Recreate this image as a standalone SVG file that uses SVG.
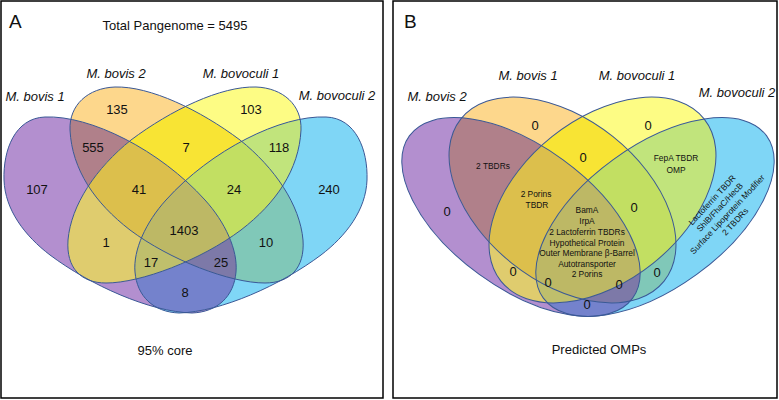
<svg xmlns="http://www.w3.org/2000/svg" width="779" height="400" viewBox="0 0 779 400">
<style>
text{font-family:"Liberation Sans",Arial,sans-serif;fill:#111;}
.n{font-size:13px;text-anchor:middle;}
.t{font-size:13px;text-anchor:middle;font-style:italic;}
.s{font-size:8.4px;text-anchor:middle;}
.o{fill:none;stroke:#3a5896;stroke-width:1;}
.frame{fill:#fff;stroke:#000;stroke-width:1.5;}
</style>
<defs>
<path id="pA1" d="M 45,117 C 90,115 160,150 205,200 C 225,222 238,250 236,272 C 234,296 218,312 192,313 C 150,312 90,285 50,255 C 25,236 5,210 4,180 C 3,150 15,118 45,117 Z"/>
<path id="pA2" d="M 115,87 C 150,86 200,110 240,140 C 275,168 300,205 303,240 C 305,268 290,283 265,283 C 230,283 170,260 130,230 C 95,203 72,170 70,130 C 69,105 88,88 115,87 Z"/>
<path id="pA3" d="M 256,87 C 221,86 171,110 131,140 C 96,168 71,205 68,240 C 66,268 81,283 106,283 C 141,283 201,260 241,230 C 276,203 299,170 301,130 C 302,105 283,88 256,87 Z"/>
<path id="pA4" d="M 326,117 C 281,115 211,150 166,200 C 146,222 133,250 135,272 C 137,296 153,312 179,313 C 221,312 281,285 321,255 C 346,236 366,210 367,180 C 368,150 356,118 326,117 Z"/>
<ellipse id="pB1" cx="521" cy="217" rx="138" ry="71" transform="rotate(36 521 217)"/>
<ellipse id="pB2" cx="562.5" cy="200" rx="130" ry="81" transform="rotate(38.6 562.5 200)"/>
<ellipse id="pB3" cx="602.5" cy="200" rx="130" ry="81" transform="rotate(-38.6 602.5 200)"/>
<ellipse id="pB4" cx="655" cy="217" rx="138" ry="71" transform="rotate(-36 655 217)"/>
<clipPath id="cA1"><use href="#pA1"/></clipPath>
<clipPath id="cA2"><use href="#pA2"/></clipPath>
<clipPath id="cA3"><use href="#pA3"/></clipPath>
<clipPath id="cA4"><use href="#pA4"/></clipPath>
<clipPath id="cB1"><use href="#pB1"/></clipPath>
<clipPath id="cB2"><use href="#pB2"/></clipPath>
<clipPath id="cB3"><use href="#pB3"/></clipPath>
<clipPath id="cB4"><use href="#pB4"/></clipPath>
</defs>

<rect class="frame" x="1" y="1" width="382" height="397"/>
<rect class="frame" x="393" y="1" width="384" height="397"/>

<!-- Panel A -->
<g id="panelA-sets">
<g id="setA1"><use href="#pA1" fill="#b38fcf"/></g>
<g id="setA2"><use href="#pA2" fill="#fdd78c"/></g>
<g id="setA3"><use href="#pA3" fill="#fdfc84"/></g>
<g id="setA4"><use href="#pA4" fill="#7fd6f6"/></g>
<g clip-path="url(#cA1)"><use href="#pA2" fill="#b0808a"/><use href="#pA3" fill="#dfcc6e"/><use href="#pA4" fill="#7482cc"/></g>
<g clip-path="url(#cA2)"><use href="#pA3" fill="#f8e434"/><use href="#pA4" fill="#80c8b8"/></g>
<g clip-path="url(#cA3)"><use href="#pA4" fill="#c1e47c"/></g>
<g clip-path="url(#cA1)"><g clip-path="url(#cA2)"><use href="#pA3" fill="#dcbf4c"/><use href="#pA4" fill="#7d79a8"/></g></g>
<g clip-path="url(#cA1)"><g clip-path="url(#cA3)"><use href="#pA4" fill="#bfbf6c"/></g></g>
<g clip-path="url(#cA2)"><g clip-path="url(#cA3)"><use href="#pA4" fill="#c2df62"/></g></g>
<g clip-path="url(#cA1)"><g clip-path="url(#cA2)"><g clip-path="url(#cA3)"><use href="#pA4" fill="#bdb865"/></g></g></g>
<use href="#pA1" class="o"/><use href="#pA2" class="o"/><use href="#pA3" class="o"/><use href="#pA4" class="o"/>
</g>

<!-- Panel B -->
<g id="panelB-sets">
<g id="setB1"><use href="#pB1" fill="#b38fcf"/></g>
<g id="setB2"><use href="#pB2" fill="#fdd78c"/></g>
<g id="setB3"><use href="#pB3" fill="#fdfc84"/></g>
<g id="setB4"><use href="#pB4" fill="#7fd6f6"/></g>
<g clip-path="url(#cB1)"><use href="#pB2" fill="#b0808a"/><use href="#pB3" fill="#dfcc6e"/><use href="#pB4" fill="#7482cc"/></g>
<g clip-path="url(#cB2)"><use href="#pB3" fill="#f8e434"/><use href="#pB4" fill="#80c8b8"/></g>
<g clip-path="url(#cB3)"><use href="#pB4" fill="#c1e47c"/></g>
<g clip-path="url(#cB1)"><g clip-path="url(#cB2)"><use href="#pB3" fill="#dcbf4c"/><use href="#pB4" fill="#7d79a8"/></g></g>
<g clip-path="url(#cB1)"><g clip-path="url(#cB3)"><use href="#pB4" fill="#bfbf6c"/></g></g>
<g clip-path="url(#cB2)"><g clip-path="url(#cB3)"><use href="#pB4" fill="#c2df62"/></g></g>
<g clip-path="url(#cB1)"><g clip-path="url(#cB2)"><g clip-path="url(#cB3)"><use href="#pB4" fill="#bdb865"/></g></g></g>
<use href="#pB1" class="o"/><use href="#pB2" class="o"/><use href="#pB3" class="o"/><use href="#pB4" class="o"/>
</g>

<g id="connectors"></g>

<g id="labelsA">
<text x="9" y="28" style="font-size:19px">A</text>
<text class="n" x="175" y="30">Total Pangenome = 5495</text>
<text class="t" x="35" y="101">M. bovis 1</text>
<text class="t" x="116" y="78">M. bovis 2</text>
<text class="t" x="241" y="78">M. bovoculi 1</text>
<text class="t" x="337" y="100">M. bovoculi 2</text>
<text class="n" x="117" y="114">135</text>
<text class="n" x="251" y="114">103</text>
<text class="n" x="93" y="152">555</text>
<text class="n" x="186" y="152">7</text>
<text class="n" x="279" y="152">118</text>
<text class="n" x="37" y="194">107</text>
<text class="n" x="139" y="194">41</text>
<text class="n" x="234" y="194">24</text>
<text class="n" x="329" y="194">240</text>
<text class="n" x="184" y="235">1403</text>
<text class="n" x="106" y="247">1</text>
<text class="n" x="266" y="247">10</text>
<text class="n" x="151" y="267">17</text>
<text class="n" x="221" y="267">25</text>
<text class="n" x="185" y="297">8</text>
<text class="n" x="165" y="355">95% core</text>
</g>

<g id="labelsB">
<text x="404" y="28" style="font-size:19px">B</text>
<text class="t" x="437" y="101">M. bovis 2</text>
<text class="t" x="528" y="80">M. bovis 1</text>
<text class="t" x="637" y="80">M. bovoculi 1</text>
<text class="t" x="737" y="97">M. bovoculi 2</text>
<text class="n" x="535" y="130">0</text>
<text class="n" x="648" y="130">0</text>
<text class="n" x="583" y="162">0</text>
<text class="n" x="447" y="216">0</text>
<text class="n" x="634" y="212">0</text>
<text class="n" x="513" y="276">0</text>
<text class="n" x="548" y="287">0</text>
<text class="n" x="619" y="289">0</text>
<text class="n" x="657" y="277">0</text>
<text class="n" x="587" y="309">0</text>
<text class="s" x="493" y="169">2 TBDRs</text>
<text class="s" x="676" y="161">FepA TBDR</text>
<text class="s" x="676" y="173">OMP</text>
<text class="s" x="536" y="197">2 Porins</text>
<text class="s" x="537" y="208">TBDR</text>
<text class="s" x="587" y="213">BamA</text>
<text class="s" x="587" y="224">IrpA</text>
<text class="s" x="587" y="235">2 Lactoferrin TBDRs</text>
<text class="s" x="587" y="246">Hypothetical Protein</text>
<text class="s" x="587" y="256">Outer Membrane β-Barrel</text>
<text class="s" x="587" y="267">Autotransporter</text>
<text class="s" x="587" y="277">2 Porins</text>
<g transform="translate(712,200) rotate(-47)">
<text class="s" x="0" y="3">Lactoferrin TBDR</text>
<text class="s" x="0" y="13.5">ShlB/FhaC/HecB</text>
<text class="s" x="0" y="24">Surface Lipoprotein Modifier</text>
<text class="s" x="0" y="34.5">2 TBDRs</text>
</g>
<text class="n" x="599" y="354">Predicted OMPs</text>
</g>
</svg>
